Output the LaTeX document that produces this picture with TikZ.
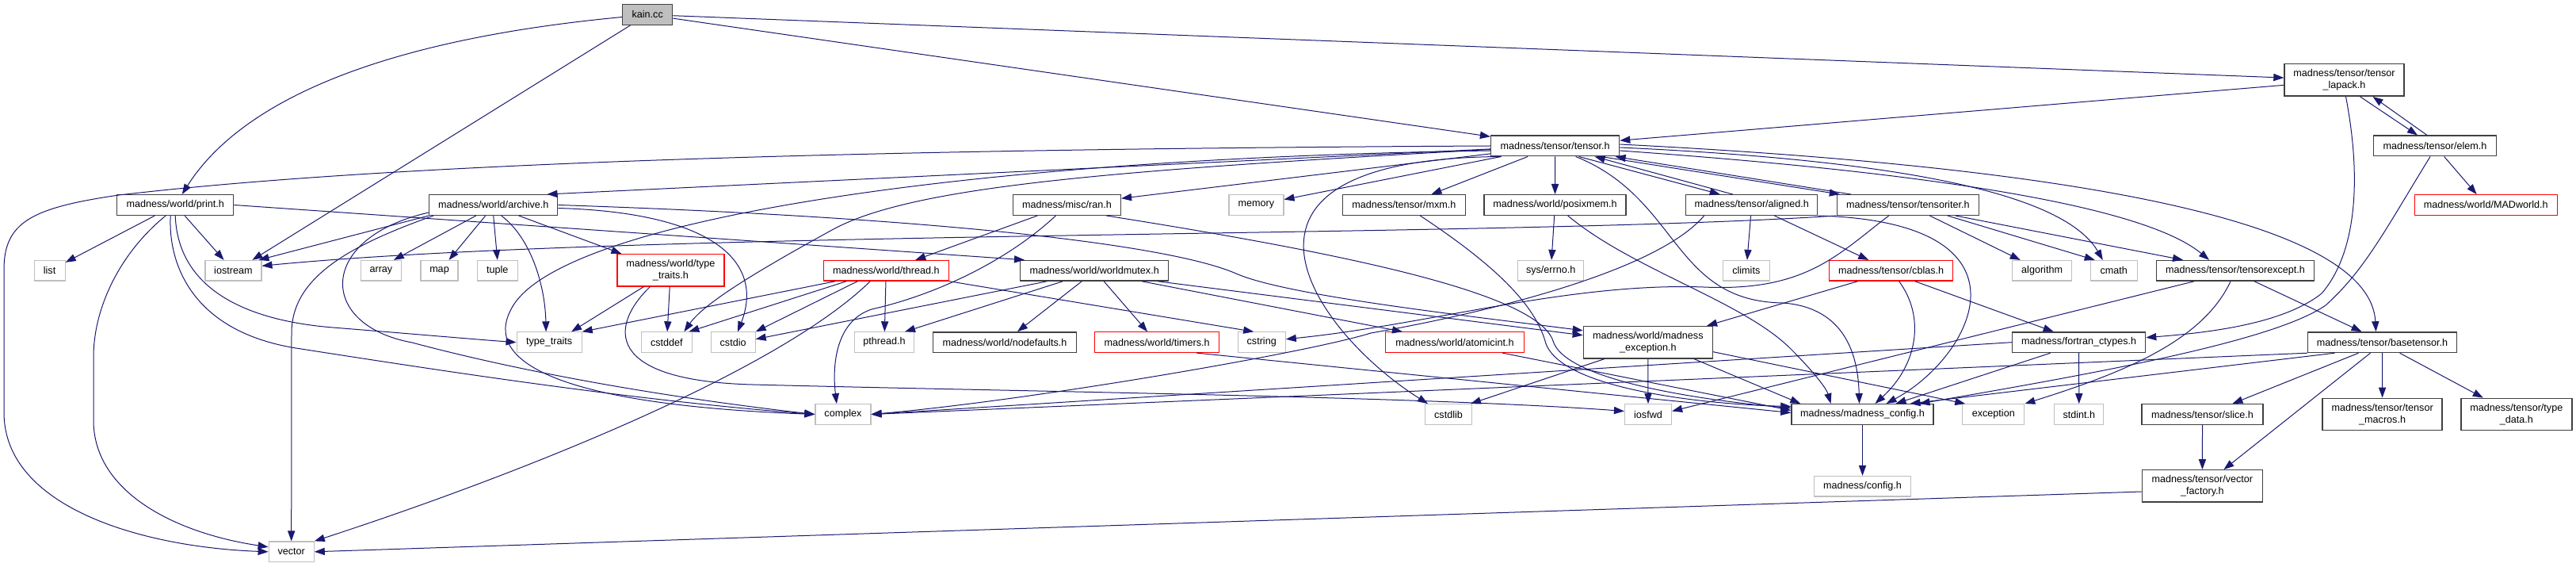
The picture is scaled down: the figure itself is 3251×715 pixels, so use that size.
\documentclass[tikz,border=0pt]{standalone}
\usepackage{fontspec}
\setmainfont{Liberation Sans}
\usetikzlibrary{arrows.meta}
\definecolor{edc}{RGB}{25,25,112}
\definecolor{dkc}{RGB}{64,64,64}
\definecolor{ltc}{RGB}{191,191,191}
\definecolor{rdc}{RGB}{255,0,0}
\definecolor{kfill}{RGB}{191,191,191}
\begin{document}
\begin{tikzpicture}[x=0.5pt,y=-0.5pt,
  nb/.style={draw=dkc,line width=0.7pt,fill=white,inner sep=0pt,minimum height=12.8pt,align=center,font=\fontsize{6.3pt}{7.3pt}\selectfont},
  ng/.style={nb,draw=ltc,line width=0.6pt},
  nr/.style={nb,draw=rdc,line width=0.6pt},
  tall/.style={minimum height=20.2pt},
  wd/.style={minimum width=#1*0.5pt},
  edge/.style={draw=edc,line width=0.5pt,-{Triangle[length=6.5pt,width=4.6pt]}}]
\path[use as bounding box] (0,0) rectangle (3251,715);

% ---------- nodes ----------
\node[nb,fill=kfill,wd=63] (kain) at (817.2,18.5) {kain.cc};
\node[nb,tall,wd=151] (lapack) at (2958.5,101) {madness/tensor/tensor\\\_lapack.h};
\node[nb,wd=162] (tensor) at (1962.6,184) {madness/tensor/tensor.h};
\node[nb,wd=155] (elem) at (3073,184) {madness/tensor/elem.h};

\node[nb,wd=147] (print) at (221.2,258.5) {madness/world/print.h};
\node[nb,wd=162] (archive) at (622.7,258.5) {madness/world/archive.h};
\node[nb,wd=136] (ran) at (1346.4,258.5) {madness/misc/ran.h};
\node[ng,wd=69] (memory) at (1585.4,258.5) {memory};
\node[nb,wd=155] (mxm) at (1771.9,258.5) {madness/tensor/mxm.h};
\node[nb,wd=179] (posixmem) at (1962.5,258.5) {madness/world/posixmem.h};
\node[nb,wd=166] (aligned) at (2210.7,258.5) {madness/tensor/aligned.h};
\node[nb,wd=179] (tensoriter) at (2407.8,258.5) {madness/tensor/tensoriter.h};
\node[nr,wd=180] (madworld) at (3137.2,258.5) {madness/world/MADworld.h};

\node[ng,wd=39] (list) at (62.6,341.3) {list};
\node[ng,wd=71] (iostream) at (294.4,341.3) {iostream};
\node[ng,wd=51] (array) at (480.9,341.3) {array};
\node[ng,wd=47] (map) at (554.5,341.3) {map};
\node[ng,wd=51] (tuple) at (627.8,341.3) {tuple};
\node[nr,tall,wd=135] (ttraitsh) at (846.4,340.8) {madness/world/type\\\_traits.h};
\node[nr,wd=158] (thread) at (1118.3,341.3) {madness/world/thread.h};
\node[nb,wd=187] (worldmutex) at (1381.2,341.3) {madness/world/worldmutex.h};
\node[ng,wd=83] (errno) at (1957.2,341.3) {sys/errno.h};
\node[ng,wd=59] (climits) at (2203.8,341.3) {climits};
\node[nr,wd=156] (cblas) at (2386.6,341.3) {madness/tensor/cblas.h};
\node[ng,wd=75] (algorithm) at (2577.1,341.3) {algorithm};
\node[ng,wd=59] (cmath) at (2667.8,341.3) {cmath};
\node[nb,wd=199] (tensorexcept) at (2821,341.3) {madness/tensor/tensorexcept.h};

\node[ng,wd=82] (ttraits) at (693.1,431.7) {type\_traits};
\node[ng,wd=64] (cstddef) at (841.4,431.7) {cstddef};
\node[ng,wd=56] (cstdio) at (925.1,431.7) {cstdio};
\node[ng,wd=75] (pthread) at (1116,431.7) {pthread.h};
\node[nb,wd=181] (nodefaults) at (1268,431.7) {madness/world/nodefaults.h};
\node[nr,wd=157] (timers) at (1460.1,431.7) {madness/world/timers.h};
\node[ng,wd=60] (cstring) at (1592.2,431.7) {cstring};
\node[nr,wd=175] (atomicint) at (1836,431.7) {madness/world/atomicint.h};
\node[nb,tall,wd=163] (madexc) at (2079.9,431.7) {madness/world/madness\\\_exception.h};
\node[nb,wd=168] (fortran) at (2623.6,431.7) {madness/fortran\_ctypes.h};
\node[nb,wd=188] (basetensor) at (3006.5,431.7) {madness/tensor/basetensor.h};

\node[ng,wd=70] (complex) at (1063.9,522.5) {complex};
\node[ng,wd=59] (cstdlib) at (1828,522.5) {cstdlib};
\node[ng,wd=59] (iosfwd) at (2080,522.5) {iosfwd};
\node[nb,wd=179] (madconfig) at (2350.5,522.5) {madness/madness\_config.h};
\node[ng,wd=78] (exception) at (2515.8,522.5) {exception};
\node[ng,wd=62] (stdint) at (2623.8,522.5) {stdint.h};
\node[nb,wd=153] (slice) at (2779.5,522.5) {madness/tensor/slice.h};
\node[nb,tall,wd=151] (tmacros) at (3006.6,522.5) {madness/tensor/tensor\\\_macros.h};
\node[nb,tall,wd=140] (typedata) at (3175.8,522.5) {madness/tensor/type\\\_data.h};

\node[ng,wd=122] (config) at (2350.5,613.3) {madness/config.h};
\node[nb,tall,wd=152] (vfactory) at (2779.4,613) {madness/tensor/vector\\\_factory.h};
\node[ng,wd=57] (vector) at (367.7,695.8) {vector};

% ---------- edges ----------
% kain.cc
\draw[edge] (kain) .. controls (430,55) and (290,150) .. (print);
\draw[edge] (kain) -- ([xshift=12pt]iostream.north);
\draw[edge] (kain) -- (tensor);
\draw[edge] (kain) -- (lapack);
% tensor_lapack / elem
\draw[edge] (lapack) -- (tensor);
\draw[edge] ([xshift=10pt]lapack.south) -- ([xshift=-11pt]elem.north);
\draw[edge] ([xshift=-5pt]elem.north) -- ([xshift=18pt]lapack.south);
\draw[edge] ([xshift=1pt]lapack.south) .. controls (2985,250) and (2965,330) .. (2930,370) .. controls (2880,410) and (2780,420) .. ([yshift=3pt]fortran.east);
\draw[edge] (elem) -- (madworld);
\draw[edge] ([xshift=-3pt]elem.south) .. controls (3010,290) and (2985,340) .. (2935,385) .. controls (2870,430) and (2650,470) .. ([xshift=36pt]madconfig.north);
% tensor.h
\draw[edge] (tensor.west) .. controls (1100,188) and (500,205) .. (150,246) .. controls (40,262) and (5,280) .. (5,340) -- (5,520) .. controls (5,640) and (180,690) .. (vector.west);
\draw[edge] (tensor) -- ([xshift=-7pt]archive.north east);
\draw[edge] (tensor) -- (ran);
\draw[edge] (tensor) -- (memory);
\draw[edge] (tensor) -- (mxm);
\draw[edge] (tensor) -- (posixmem);
\draw[edge] ([xshift=15pt]tensor.south) -- ([xshift=-20pt]aligned.north);
\draw[edge] ([xshift=-12pt]aligned.north) -- ([xshift=25pt]tensor.south);
\draw[edge] ([xshift=29pt]tensor.south) -- ([xshift=-43pt]tensoriter.north);
\draw[edge] ([xshift=-36pt]tensoriter.north) -- ([xshift=38pt]tensor.south);
\draw[edge] ([yshift=-1pt]tensor.east) .. controls (2350,200) and (2600,235) .. ([xshift=-7pt]cmath.north);
\draw[edge] ([yshift=-3pt]tensor.east) .. controls (2400,215) and (2700,255) .. ([xshift=-16.5pt]tensorexcept.north);
\draw[edge] ([yshift=1pt]tensor.east) .. controls (2500,205) and (2990,260) .. ([xshift=-4pt]basetensor.north);
\draw[edge] ([yshift=-3pt]tensor.west) .. controls (1200,200) and (700,280) .. (645,390) .. controls (610,455) and (700,510) .. (complex.west);
\draw[edge] (tensor) .. controls (1400,215) and (1150,235) .. (1050,290) .. controls (970,334) and (890,380) .. ([xshift=11pt]cstddef.north);
\draw[edge] ([xshift=-34pt]tensor.south) .. controls (1500,200) and (1660,420) .. ([xshift=-13pt]cstdlib.north);
\draw[edge] ([xshift=13pt]tensor.south) .. controls (2120,250) and (2110,380) .. (2250,382) .. controls (2330,388) and (2345,450) .. ([xshift=-2pt]madconfig.north);
% posixmem.h, mxm.h
\draw[edge] (posixmem) -- (errno);
\draw[edge] (posixmem) .. controls (2060,340) and (2200,380) .. (2260,440) .. controls (2290,470) and (2305,490) .. ([xshift=-20pt]madconfig.north);
\draw[edge] (mxm) .. controls (1880,330) and (1935,380) .. (1950,430) .. controls (1965,490) and (2150,510) .. ([yshift=5pt]madconfig.west);
% aligned.h
\draw[edge] (aligned) -- (climits);
\draw[edge] (aligned) -- (cblas);
\draw[edge] ([xshift=-30pt]aligned.south) .. controls (2080,355) and (1800,408) .. (1730,420) .. controls (1650,445) and (1300,505) .. (complex.east);
\draw[edge] (aligned.south east) .. controls (2580,280) and (2490,450) .. ([xshift=15pt]madconfig.north);
% tensoriter.h
\draw[edge] (tensoriter.south west) .. controls (1900,300) and (800,290) .. ([yshift=3pt]iostream.east);
\draw[edge] (tensoriter) -- (algorithm);
\draw[edge] ([xshift=25pt]tensoriter.south) -- ([xshift=3pt]cmath.north west);
\draw[edge] ([xshift=30pt]tensoriter.south) -- ([xshift=-33pt]tensorexcept.north);
\draw[edge] ([xshift=-12pt]tensoriter.south) .. controls (2320,320) and (2280,368) .. (2150,362) .. controls (1980,356) and (1800,410) .. ([yshift=2pt]cstring.east);
% print.h
\draw[edge] (print) -- (list);
\draw[edge] (print) -- (iostream);
\draw[edge] ([xshift=-6pt]print.south) .. controls (150,320) and (118,390) .. (118,450) -- (118,530) .. controls (118,620) and (220,672) .. ([yshift=3pt]vector.west);
\draw[edge] ([xshift=-3pt]print.south) .. controls (212,330) and (240,420) .. (380,440) .. controls (560,468) and (800,505) .. (complex.west);
\draw[edge] (print.south) .. controls (225,370) and (320,405) .. (420,413) .. controls (520,421) and (600,428) .. (ttraits.west);
\draw[edge] (print.east) -- ([xshift=3pt]worldmutex.north west);
% archive.h
\draw[edge] (archive.south west) -- ([xshift=-2pt]iostream.north east);
\draw[edge] ([xshift=-11pt]archive.south) -- ([xshift=8pt]array.north);
\draw[edge] ([xshift=-5pt]archive.south) -- ([xshift=6pt]map.north);
\draw[edge] (archive.south) -- (tuple.north);
\draw[edge] ([xshift=16pt]archive.south) -- ([xshift=-31pt]ttraitsh.north);
\draw[edge] ([xshift=5pt]archive.south) .. controls (670,300) and (688,360) .. ([xshift=-2pt]ttraits.north);
\draw[edge] ([xshift=3pt]archive.south west) .. controls (440,310) and (368,350) .. (368,420) -- (vector.north);
\draw[edge] ([yshift=2pt]archive.south west) .. controls (400,300) and (400,410) .. (520,432) .. controls (700,480) and (900,508) .. (complex.west);
\draw[edge] ([yshift=-2pt]archive.east) .. controls (900,268) and (965,330) .. ([xshift=3pt]cstdio.north);
\draw[edge] (archive.east) .. controls (1200,275) and (1480,310) .. (1560,345) .. controls (1624,373) and (1850,398) .. ([yshift=-3pt]madexc.north west);
% world/type_traits.h
\draw[edge] ([xshift=-17pt]ttraitsh.south) -- ([xshift=14pt]ttraits.north);
\draw[edge] (ttraitsh) -- (cstddef);
\draw[edge] ([xshift=-13pt]ttraitsh.south) .. controls (770,410) and (760,480) .. (950,485) .. controls (1300,494) and (1800,500) .. ([yshift=2pt]iosfwd.west);
% ran.h
\draw[edge] (ran) -- (thread);
\draw[edge] ([xshift=-7pt]ran.south) .. controls (1270,330) and (1180,372) .. (1100,390) .. controls (1055,405) and (1050,460) .. ([xshift=-4pt]complex.north);
\draw[edge] ([xshift=25pt]ran.south) .. controls (1700,320) and (1940,370) .. (1960,430) .. controls (1975,480) and (2150,505) .. ([yshift=4pt]madconfig.west);
% thread.h
\draw[edge] ([xshift=-32pt]thread.south) -- (ttraits.north east);
\draw[edge] ([xshift=-25pt]thread.south) -- ([xshift=14pt]cstddef.north);
\draw[edge] ([xshift=-18pt]thread.south) -- (cstdio.north east);
\draw[edge] ([xshift=-10pt]thread.south) .. controls (980,470) and (650,600) .. (vector.north east);
\draw[edge] (thread) -- (pthread);
\draw[edge] (thread.south east) -- ([xshift=-5pt]cstring.north);
% worldmutex.h
\draw[edge] ([xshift=-30pt]worldmutex.south) -- ([yshift=2pt]cstdio.east);
\draw[edge] ([xshift=-20pt]worldmutex.south) -- ([xshift=13pt]pthread.north);
\draw[edge] ([xshift=-8pt]worldmutex.south) -- ([xshift=8pt]nodefaults.north);
\draw[edge] ([xshift=6pt]worldmutex.south) -- ([xshift=-6pt]timers.north);
\draw[edge] ([xshift=30pt]worldmutex.south) -- ([xshift=-33pt]atomicint.north);
\draw[edge] ([xshift=40pt]worldmutex.south) -- ([yshift=-6pt]madexc.north west);
% timers.h, atomicint.h
\draw[edge] ([xshift=25pt]timers.south) -- ([yshift=1pt]madconfig.west);
\draw[edge] ([xshift=30pt]atomicint.south) -- ([yshift=2.5pt]madconfig.west);
% madness_exception.h
\draw[edge] ([xshift=-27.5pt]madexc.south) -- ([xshift=14pt]cstdlib.north);
\draw[edge] (madexc) -- (iosfwd);
\draw[edge] ([xshift=29pt]madexc.south) -- ([xshift=6pt]madconfig.north west);
\draw[edge] ([yshift=-6pt]madexc.east) -- ([xshift=2pt]exception.north west);
% cblas.h
\draw[edge] ([xshift=15pt]cblas.south) -- ([xshift=-16pt]fortran.north);
\draw[edge] ([xshift=5pt]cblas.south) .. controls (2430,400) and (2420,460) .. ([xshift=8pt]madconfig.north);
\draw[edge] ([xshift=-21pt]cblas.south) -- ([xshift=-4pt]madexc.north east);
% fortran_ctypes.h
\draw[edge] ([xshift=-18pt]fortran.south) -- ([xshift=21pt]madconfig.north);
\draw[edge] (fortran) -- (stdint);
\draw[edge] (fortran.west) -- (complex.east);
% tensorexcept.h
\draw[edge] ([xshift=-26pt]tensorexcept.south) -- ([yshift=2pt]iosfwd.east);
\draw[edge] ([xshift=-3pt]tensorexcept.south) .. controls (2780,430) and (2680,470) .. (exception.north east);
\draw[edge] ([xshift=12pt]tensorexcept.south) -- ([xshift=-13pt]basetensor.north);
% basetensor.h
\draw[edge] (basetensor.south west) -- (complex.east);
\draw[edge] ([xshift=-30pt]basetensor.south) -- ([xshift=30pt]madconfig.north);
\draw[edge] ([xshift=-15pt]basetensor.south) -- ([xshift=19pt]slice.north);
\draw[edge] ([xshift=-7.5pt]basetensor.south) -- ([xshift=13.5pt]vfactory.north);
\draw[edge] (basetensor) -- (tmacros);
\draw[edge] ([xshift=11pt]basetensor.south) -- ([xshift=-21pt]typedata.north);
% rest
\draw[edge] (slice) -- (vfactory);
\draw[edge] ([yshift=-3.5pt]vfactory.west) -- (vector.east);
\draw[edge] (madconfig) -- (config);
\end{tikzpicture}
\end{document}
